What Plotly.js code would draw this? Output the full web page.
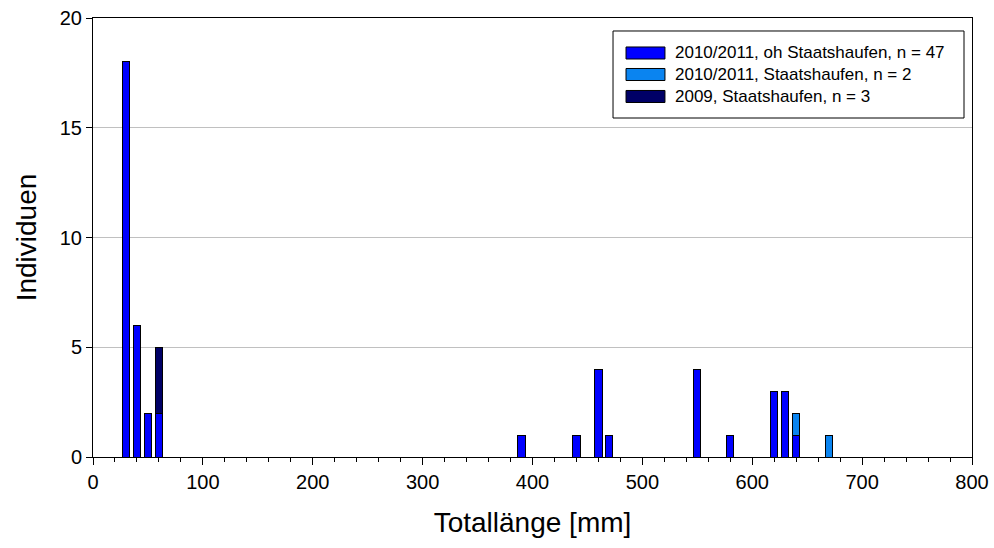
<!DOCTYPE html>
<html><head><meta charset="utf-8">
<script src="https://cdn.plot.ly/plotly-3.0.1.min.js"></script>
<style>body{margin:0;background:#fff}#c{width:994px;height:548px}</style>
</head><body><div id="c"></div>
<script>
const lengths = [30, 40, 50, 60, 390, 440, 460, 470, 550, 580, 620, 630, 640, 670];
const ohStaatshaufen2010 = [18, 6, 2, 2, 1, 1, 4, 1, 4, 1, 3, 3, 1, 0];
const staatshaufen2010 = [0, 0, 0, 0, 0, 0, 0, 0, 0, 0, 0, 0, 1, 1];
const staatshaufen2009 = [0, 0, 0, 3, 0, 0, 0, 0, 0, 0, 0, 0, 0, 0];
const names = ["2010/2011, oh Staatshaufen, n = 47", "2010/2011, Staatshaufen, n = 2", "2009, Staatshaufen, n = 3"];
const colors = ["#0000FF", "#0A84F0", "#000066"];
const series = [ohStaatshaufen2010, staatshaufen2010, staatshaufen2009];
const traces = series.map((s, i) => ({
  type: "bar", x: lengths, y: s, name: names[i], width: 6.5, showlegend: false,
  marker: {color: colors[i], line: {color: "#000", width: 1}}
}));

// custom legend (wide rectangle symbols like the original)
const L = {x0: 0.5916, x1: 0.9909, y0: 0.7722, y1: 0.9704, sx0: 0.6064, sx1: 0.6507, tx: 0.6598,
           rows: [0.9203, 0.8713, 0.8212], h: 0.0137};
const shapes = [{type: "rect", xref: "paper", yref: "paper", x0: L.x0, x1: L.x1, y0: L.y0, y1: L.y1,
  line: {color: "#000", width: 1}, fillcolor: "#fff", layer: "above"}];
const annotations = [];
names.forEach((n, i) => {
  shapes.push({type: "rect", xref: "paper", yref: "paper", x0: L.sx0, x1: L.sx1, y0: L.rows[i] - L.h, y1: L.rows[i] + L.h,
    line: {color: "#000", width: 1}, fillcolor: colors[i], layer: "above"});
  annotations.push({xref: "paper", yref: "paper", x: L.tx, y: L.rows[i], xanchor: "left", yanchor: "middle",
    text: n, showarrow: false, font: {size: 17, color: "#000"}});
});

const layout = {
  width: 994, height: 548, barmode: "stack", showlegend: false,
  paper_bgcolor: "#fff", plot_bgcolor: "#fff",
  margin: {l: 93, r: 22, t: 18, b: 91},
  font: {family: "Liberation Sans, Arial, sans-serif", color: "#000"},
  xaxis: {range: [0, 800], tickvals: [0,100,200,300,400,500,600,700,800], ticks: "outside", ticklen: 7, tickcolor: "#000",
    showline: true, linecolor: "#000", linewidth: 1, mirror: true, showgrid: false, zeroline: false,
    tickfont: {size: 20}, title: {text: "Totallänge [mm]", font: {size: 28}, standoff: 20},
    minor: {dtick: 20, tick0: 0, ticks: "outside", ticklen: 4, tickcolor: "#000", showgrid: false}},
  yaxis: {range: [0, 20], tickvals: [0,5,10,15,20], ticks: "outside", ticklen: 6, tickcolor: "#000",
    showline: true, linecolor: "#000", linewidth: 1, mirror: true, showgrid: true, gridcolor: "#c0c0c0", zeroline: false,
    tickfont: {size: 20}, title: {text: "Individuen", font: {size: 28}, standoff: 14}},
  shapes: shapes,
  annotations: annotations
};
Plotly.newPlot("c", traces, layout, {displayModeBar: false});
</script></body></html>
